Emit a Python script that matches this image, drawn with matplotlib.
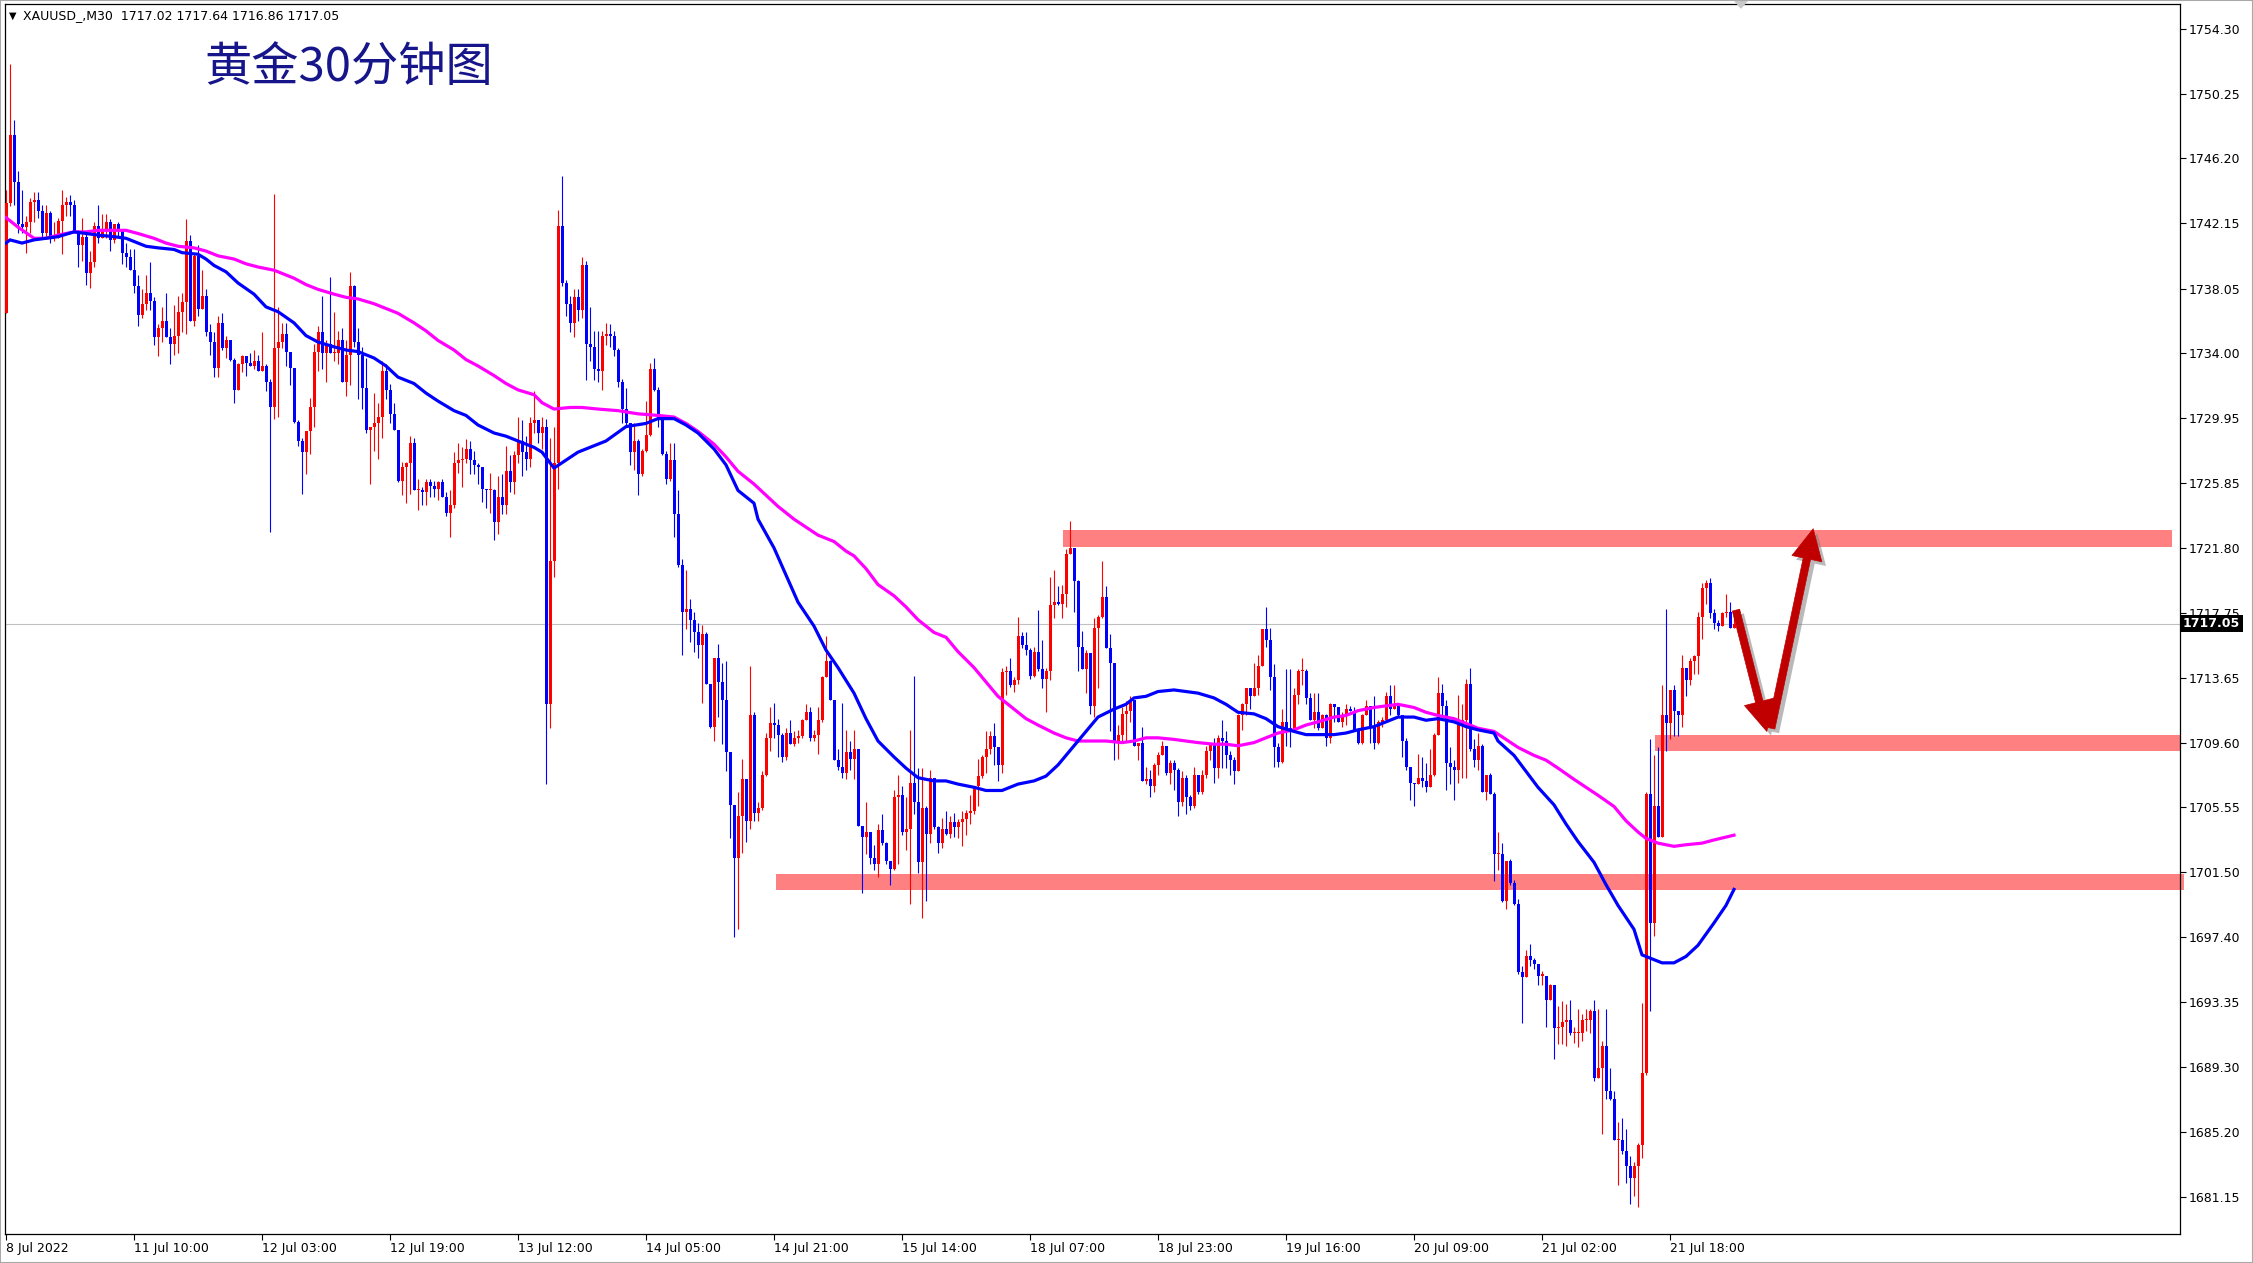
import matplotlib
matplotlib.use("Agg")
import matplotlib.pyplot as plt
import numpy as np
from matplotlib.patches import Rectangle, FancyArrowPatch, Polygon
import matplotlib.patheffects as pe
import matplotlib.transforms as mtrans

plt.rcParams['font.family'] = ['DejaVu Sans', 'Noto Sans CJK SC']

# ---------------- data ----------------
symbol = "XAUUSD_,M30"
last_bar_ohlc = [1717.02, 1717.64, 1716.86, 1717.05]
title_text = "黄金30分钟图"
first_open = 1736.5

closes = [
 1743.4, 1747.7, 1744.7, 1742.1, 1741.9, 1742.2, 1743.5, 1743.6, 1742.9, 1741.5,
 1742.8, 1741.2, 1741.2, 1742.3, 1743.3, 1743.5, 1743.3, 1741.6, 1740.8, 1741.3,
 1739.0, 1739.7, 1742.0, 1741.2, 1741.8, 1742.2, 1741.1, 1742.1, 1741.8, 1740.3,
 1740.0, 1739.2, 1738.2, 1736.4, 1737.1, 1737.8, 1737.3, 1735.0, 1735.6, 1736.0,
 1735.0, 1734.6, 1735.1, 1736.6, 1737.2, 1741.0, 1736.0, 1740.1, 1736.8, 1737.6,
 1735.3, 1734.7, 1733.1, 1735.9, 1734.3, 1734.8, 1733.6, 1731.7, 1733.3, 1733.8,
 1733.4, 1733.2, 1733.5, 1732.9, 1733.2, 1732.2, 1730.6, 1734.3, 1734.7, 1735.2,
 1734.1, 1733.1, 1729.7, 1728.5, 1727.8, 1729.1, 1730.6, 1734.1, 1735.3, 1734.0,
 1734.6, 1734.0, 1734.0, 1734.8, 1732.2, 1733.9, 1738.2, 1734.7, 1733.9, 1731.8,
 1729.2, 1729.4, 1729.6, 1730.0, 1732.9, 1731.7, 1730.2, 1729.2, 1726.0, 1726.9,
 1727.1, 1728.4, 1725.4, 1725.4, 1725.3, 1725.9, 1725.7, 1725.5, 1725.9, 1725.0,
 1724.0, 1724.5, 1727.1, 1727.3, 1727.4, 1728.0, 1727.3, 1727.0, 1726.9, 1725.5,
 1725.4, 1725.4, 1723.4, 1725.0, 1724.5, 1726.6, 1725.9, 1727.6, 1728.5, 1727.8,
 1727.4, 1729.6, 1729.8, 1729.0, 1729.4, 1712.0, 1721.0, 1727.1, 1742.0, 1738.4,
 1737.1, 1735.9, 1737.5, 1736.7, 1739.5, 1734.6, 1734.4, 1733.0, 1732.9, 1735.1,
 1735.2, 1735.1, 1734.2, 1732.2, 1730.5, 1729.6, 1727.8, 1728.5, 1726.4, 1727.9,
 1728.9, 1733.0, 1731.7, 1729.8, 1727.7, 1726.1, 1727.3, 1723.9, 1720.7, 1717.8,
 1718.0, 1717.3, 1716.5, 1715.7, 1716.4, 1713.3, 1710.6, 1714.9, 1713.4, 1712.3,
 1709.0, 1705.7, 1702.4, 1705.0, 1707.3, 1704.7, 1711.3, 1705.2, 1705.5, 1707.6,
 1709.9, 1710.8, 1710.7, 1710.1, 1708.7, 1710.2, 1709.5, 1709.9, 1710.0, 1711.0,
 1711.5, 1709.9, 1710.1, 1711.0, 1713.7, 1714.7, 1712.3, 1708.5, 1708.1, 1707.7,
 1709.0, 1708.6, 1709.2, 1704.4, 1703.7, 1704.0, 1702.4, 1702.0, 1704.1, 1703.3,
 1702.2, 1701.7, 1706.2, 1706.3, 1704.0, 1704.2, 1707.1, 1705.9, 1702.1, 1705.5,
 1703.9, 1707.4, 1704.3, 1703.3, 1704.2, 1703.9, 1704.6, 1704.3, 1704.6, 1704.8,
 1705.2, 1705.3, 1706.9, 1707.5, 1708.7, 1709.2, 1710.0, 1709.3, 1708.2, 1714.0,
 1714.1, 1713.2, 1713.5, 1716.3, 1715.7, 1715.4, 1713.8, 1715.3, 1714.2, 1713.6,
 1714.1, 1718.2, 1718.4, 1718.3, 1718.9, 1721.4, 1721.8, 1719.7, 1715.6, 1714.2,
 1715.2, 1711.9, 1716.8, 1717.5, 1718.7, 1715.5, 1714.6, 1709.7, 1710.1, 1711.4,
 1711.6, 1712.3, 1709.4, 1709.6, 1707.2, 1707.3, 1706.9, 1708.2, 1708.8, 1709.4,
 1707.7, 1708.3, 1707.9, 1705.9, 1707.4, 1706.2, 1705.6, 1707.6, 1706.5, 1707.6,
 1709.1, 1709.5, 1708.0, 1709.9, 1709.7, 1708.8, 1708.5, 1707.8, 1711.3, 1712.0,
 1713.0, 1712.5, 1713.0, 1714.4, 1716.7, 1716.0, 1713.7, 1709.3, 1708.4, 1710.9,
 1710.5, 1710.4, 1712.6, 1714.1, 1714.1, 1712.4, 1711.0, 1711.5, 1710.5, 1711.3,
 1709.9, 1712.0, 1711.8, 1710.9, 1711.3, 1711.7, 1711.6, 1710.4, 1709.6, 1711.3,
 1711.9, 1710.6, 1709.6, 1710.9, 1711.0, 1712.5, 1711.7, 1712.0, 1711.3, 1709.7,
 1708.1, 1707.1, 1707.0, 1707.4, 1707.2, 1706.8, 1707.6, 1710.1, 1712.7, 1711.9,
 1708.3, 1708.1, 1707.9, 1710.7, 1711.0, 1713.3, 1709.2, 1708.5, 1709.4, 1706.5,
 1707.6, 1706.4, 1702.6, 1702.6, 1699.7, 1702.2, 1700.8, 1699.5, 1695.2, 1694.9,
 1696.2, 1696.0, 1695.7, 1695.0, 1695.0, 1693.5, 1694.4, 1691.7, 1691.8, 1692.1,
 1692.2, 1691.4, 1691.4, 1691.4, 1692.2, 1692.2, 1692.8, 1688.6, 1689.2, 1690.6,
 1687.8, 1687.3, 1684.7, 1684.7, 1684.0, 1683.1, 1682.3, 1683.1, 1684.4, 1688.9,
 1706.4, 1698.3, 1705.6, 1703.7, 1711.3, 1710.8, 1712.9, 1711.6, 1711.3, 1714.3,
 1713.5, 1714.7, 1715.0, 1717.5, 1719.3, 1719.6, 1717.7, 1717.1, 1716.9, 1717.7,
 1717.8, 1716.8, 1717.05]

highs = [
 1744.2, 1752.1, 1748.6, 1745.4, 1744.2, 1742.6, 1743.7, 1744.1, 1744.1, 1743.3,
 1743.3, 1742.9, 1742.2, 1742.5, 1744.2, 1743.8, 1743.9, 1743.6, 1741.7, 1742.5,
 1741.6, 1740.4, 1742.2, 1743.3, 1742.7, 1742.7, 1742.4, 1742.1, 1742.2, 1741.6,
 1740.9, 1740.5, 1740.5, 1738.9, 1738.0, 1738.9, 1739.7, 1737.5, 1735.8, 1736.9,
 1737.8, 1735.6, 1737.0, 1737.6, 1737.8, 1742.4, 1741.4, 1740.3, 1740.8, 1739.2,
 1738.0, 1735.8, 1735.3, 1736.3, 1736.5, 1735.1, 1734.8, 1733.7, 1733.4, 1733.9,
 1733.7, 1734.0, 1734.2, 1733.9, 1735.3, 1733.3, 1732.4, 1744.0, 1736.9, 1735.9,
 1735.9, 1734.1, 1733.0, 1729.8, 1728.7, 1729.1, 1731.2, 1734.6, 1735.7, 1737.6,
 1734.8, 1738.8, 1736.6, 1735.4, 1735.6, 1734.8, 1739.1, 1738.3, 1735.6, 1734.4,
 1733.7, 1729.4, 1731.5, 1730.9, 1733.5, 1733.3, 1732.1, 1730.9, 1729.2, 1727.2,
 1727.2, 1728.8, 1728.7, 1726.1, 1725.6, 1726.1, 1726.1, 1726.0, 1726.0, 1726.1,
 1725.3, 1725.4, 1727.8, 1728.4, 1728.1, 1728.6, 1728.5, 1727.9, 1727.1, 1726.9,
 1725.5, 1726.5, 1725.5, 1726.3, 1726.4, 1728.2, 1727.6, 1727.9, 1730.0, 1729.8,
 1728.8, 1730.0, 1731.6, 1729.8, 1730.0, 1729.9, 1728.7, 1729.4, 1743.0, 1745.1,
 1738.6, 1737.6, 1738.0, 1738.0, 1740.0, 1739.8, 1736.9, 1735.4, 1735.4, 1735.4,
 1735.9, 1735.8, 1735.4, 1734.3, 1732.4, 1731.8, 1729.5, 1729.6, 1728.6, 1728.0,
 1731.0, 1733.4, 1733.7, 1731.9, 1729.7, 1727.9, 1728.4, 1728.4, 1725.4, 1721.1,
 1720.4, 1718.6, 1717.8, 1717.1, 1717.0, 1716.5, 1713.3, 1714.9, 1715.8, 1714.6,
 1714.7, 1709.0, 1705.3, 1706.5, 1708.6, 1707.1, 1714.4, 1711.5, 1705.9, 1707.8,
 1710.2, 1711.8, 1712.1, 1711.1, 1710.2, 1710.5, 1711.0, 1710.3, 1710.4, 1711.1,
 1712.0, 1711.8, 1710.4, 1711.8, 1713.8, 1716.3, 1714.8, 1712.3, 1709.2, 1712.1,
 1710.4, 1709.7, 1710.4, 1708.9, 1704.4, 1705.9, 1704.0, 1703.2, 1704.5, 1705.1,
 1703.4, 1702.2, 1706.6, 1707.6, 1706.9, 1706.2, 1710.4, 1713.8, 1708.0, 1708.0,
 1705.6, 1707.9, 1707.4, 1704.4, 1704.9, 1705.3, 1705.0, 1705.2, 1704.8, 1705.3,
 1705.4, 1706.3, 1706.9, 1708.6, 1708.8, 1710.3, 1710.3, 1710.8, 1709.3, 1714.3,
 1714.4, 1714.9, 1713.7, 1717.5, 1716.5, 1716.5, 1715.5, 1715.6, 1717.9, 1716.0,
 1714.3, 1720.0, 1720.4, 1719.4, 1719.5, 1721.7, 1723.5, 1721.8, 1719.8, 1716.6,
 1715.4, 1715.2, 1717.4, 1717.6, 1721.0, 1719.4, 1716.4, 1714.6, 1710.7, 1711.8,
 1712.2, 1712.5, 1712.1, 1709.6, 1710.6, 1708.1, 1707.9, 1708.3, 1709.0, 1709.7,
 1709.3, 1708.5, 1708.5, 1708.0, 1707.8, 1707.6, 1706.3, 1708.1, 1707.6, 1707.9,
 1709.4, 1709.5, 1709.9, 1710.1, 1711.0, 1710.3, 1709.1, 1708.7, 1711.4, 1712.1,
 1713.0, 1713.0, 1714.6, 1715.1, 1716.7, 1718.1, 1716.8, 1714.5, 1709.6, 1711.7,
 1714.2, 1714.2, 1713.0, 1714.2, 1714.9, 1714.2, 1712.7, 1712.7, 1712.7, 1711.4,
 1711.4, 1712.1, 1712.0, 1711.8, 1711.5, 1712.0, 1711.9, 1711.8, 1710.5, 1711.4,
 1712.3, 1711.8, 1712.5, 1711.0, 1711.2, 1712.8, 1713.2, 1713.2, 1712.1, 1711.3,
 1709.9, 1708.1, 1707.1, 1708.9, 1708.7, 1708.3, 1709.2, 1710.2, 1713.7, 1713.3,
 1712.3, 1709.3, 1708.5, 1712.6, 1712.0, 1713.6, 1714.3, 1709.8, 1710.2, 1709.5,
 1707.6, 1707.7, 1706.5, 1704.0, 1703.3, 1702.2, 1702.3, 1701.0, 1699.8, 1695.6,
 1696.6, 1697.0, 1696.1, 1695.7, 1695.3, 1695.0, 1694.5, 1694.4, 1693.1, 1693.4,
 1693.2, 1693.5, 1691.8, 1692.9, 1692.6, 1692.9, 1692.9, 1693.5, 1692.9, 1690.9,
 1692.9, 1689.2, 1687.8, 1685.8, 1686.1, 1685.4, 1683.7, 1683.3, 1684.5, 1693.3,
 1706.5, 1709.8, 1708.8, 1709.3, 1713.2, 1718.0, 1712.9, 1713.2, 1711.3, 1715.1,
 1714.3, 1714.9, 1715.1, 1717.8, 1719.6, 1719.8, 1719.9, 1718.0, 1717.3, 1717.8,
 1718.9, 1718.4, 1717.64]

lows = [
 1736.5, 1743.2, 1743.3, 1741.5, 1741.5, 1740.3, 1741.5, 1742.2, 1742.5, 1741.3,
 1741.3, 1740.9, 1741.0, 1741.2, 1740.2, 1742.6, 1742.6, 1741.6, 1739.4, 1739.8,
 1738.3, 1738.1, 1739.4, 1740.9, 1741.2, 1741.2, 1740.4, 1740.9, 1741.3, 1739.6,
 1739.4, 1739.2, 1737.8, 1735.7, 1736.2, 1736.7, 1736.7, 1734.5, 1733.8, 1734.7,
 1735.0, 1733.3, 1733.9, 1734.0, 1735.3, 1735.2, 1736.0, 1735.7, 1736.3, 1736.8,
 1735.1, 1733.9, 1732.5, 1732.5, 1734.2, 1733.7, 1733.5, 1730.9, 1731.8, 1732.8,
 1732.6, 1733.2, 1733.0, 1732.9, 1733.0, 1731.6, 1722.8, 1729.9, 1730.0, 1734.3,
 1733.2, 1732.0, 1729.6, 1728.2, 1725.2, 1726.4, 1727.7, 1729.4, 1732.9, 1733.0,
 1732.2, 1734.0, 1733.5, 1733.3, 1732.2, 1731.3, 1732.0, 1734.4, 1731.1, 1730.5,
 1729.0, 1725.8, 1727.9, 1727.4, 1728.7, 1731.1, 1729.6, 1729.2, 1725.9, 1725.1,
 1724.6, 1725.2, 1725.4, 1724.2, 1724.5, 1724.5, 1725.0, 1725.0, 1724.8, 1725.0,
 1723.8, 1722.5, 1724.3, 1726.5, 1725.6, 1727.1, 1726.4, 1726.4, 1725.8, 1724.7,
 1724.3, 1724.0, 1722.3, 1722.7, 1723.9, 1723.9, 1725.3, 1725.2, 1727.1, 1726.3,
 1726.7, 1726.9, 1729.0, 1728.4, 1728.0, 1707.0, 1710.5, 1720.0, 1725.5, 1738.2,
 1736.3, 1735.3, 1735.0, 1736.0, 1736.2, 1732.3, 1733.5, 1732.3, 1732.2, 1731.7,
 1734.5, 1734.4, 1733.8, 1731.9, 1729.6, 1729.5, 1727.0, 1726.7, 1725.1, 1726.3,
 1727.8, 1728.8, 1731.6, 1729.4, 1727.6, 1725.8, 1726.0, 1722.5, 1720.6, 1715.1,
 1716.7, 1715.9, 1715.3, 1714.9, 1712.1, 1713.3, 1710.5, 1709.7, 1711.2, 1709.5,
 1707.8, 1703.6, 1697.4, 1697.9, 1702.7, 1703.4, 1704.2, 1704.7, 1704.7, 1705.4,
 1707.5, 1709.1, 1709.9, 1708.7, 1708.4, 1708.5, 1709.5, 1709.4, 1709.6, 1709.9,
 1711.0, 1709.7, 1709.7, 1708.9, 1710.9, 1713.7, 1712.3, 1708.5, 1707.9, 1707.4,
 1707.3, 1707.9, 1707.3, 1704.4, 1700.2, 1702.6, 1702.0, 1701.6, 1701.2, 1703.2,
 1702.0, 1700.7, 1701.6, 1702.0, 1703.8, 1702.9, 1699.5, 1705.1, 1701.4, 1698.6,
 1699.7, 1703.3, 1704.2, 1702.7, 1703.0, 1703.8, 1703.6, 1703.7, 1703.6, 1703.1,
 1703.8, 1704.5, 1705.1, 1705.6, 1707.4, 1707.7, 1708.9, 1708.2, 1707.2, 1707.7,
 1712.6, 1713.1, 1712.8, 1713.3, 1715.5, 1715.1, 1713.6, 1713.7, 1714.1, 1713.0,
 1711.5, 1713.5, 1717.4, 1718.2, 1717.4, 1718.1, 1721.4, 1717.8, 1714.1, 1714.2,
 1712.7, 1711.4, 1711.2, 1713.0, 1717.4, 1715.5, 1710.3, 1708.5, 1708.6, 1709.7,
 1709.7, 1710.9, 1709.4, 1708.5, 1707.2, 1707.0, 1706.2, 1706.5, 1707.6, 1708.9,
 1707.6, 1707.0, 1706.6, 1705.0, 1705.6, 1705.1, 1705.4, 1705.5, 1706.4, 1706.4,
 1707.4, 1708.5, 1707.1, 1707.4, 1708.0, 1708.0, 1707.6, 1707.0, 1707.9, 1710.4,
 1711.3, 1711.7, 1712.5, 1712.6, 1714.4, 1715.6, 1712.9, 1708.1, 1708.1, 1708.3,
 1709.4, 1709.3, 1710.3, 1712.0, 1713.2, 1712.0, 1711.0, 1710.5, 1710.4, 1710.5,
 1709.4, 1709.6, 1710.9, 1710.9, 1710.6, 1710.7, 1711.6, 1710.4, 1709.5, 1709.5,
 1711.3, 1709.6, 1709.2, 1709.5, 1710.6, 1710.9, 1711.3, 1711.7, 1711.2, 1708.7,
 1707.9, 1706.0, 1705.6, 1707.0, 1706.8, 1706.5, 1706.8, 1707.5, 1710.1, 1711.3,
 1706.6, 1707.0, 1706.0, 1707.1, 1707.4, 1707.4, 1709.1, 1708.1, 1707.9, 1706.5,
 1706.0, 1706.4, 1700.9, 1701.6, 1699.6, 1699.2, 1700.7, 1699.4, 1695.1, 1692.0,
 1694.9, 1695.6, 1695.4, 1694.4, 1694.4, 1691.8, 1693.5, 1689.8, 1690.7, 1690.7,
 1690.6, 1691.3, 1690.8, 1690.5, 1690.9, 1691.5, 1691.4, 1688.4, 1688.6, 1685.1,
 1687.3, 1687.2, 1684.7, 1681.9, 1683.8, 1682.0, 1680.7, 1681.2, 1680.5, 1683.6,
 1688.8, 1692.8, 1697.5, 1703.7, 1703.7, 1709.1, 1709.8, 1710.0, 1710.0, 1710.6,
 1712.5, 1713.2, 1713.9, 1713.9, 1716.1, 1718.3, 1717.4, 1716.7, 1716.6, 1716.9,
 1717.5, 1716.8, 1716.86]

# fast (blue) moving average, read at bar positions
ma_fast_pos = [0, 1, 4, 7, 10, 13, 17, 20, 23, 27, 30, 33, 35, 38, 42, 44, 48, 50, 52, 55,
               58, 62, 65, 68, 72, 75, 78, 82, 85, 88, 92, 95, 98, 102, 105, 108, 112, 115, 118, 122,
               125, 128, 132, 134, 137, 140, 143, 150, 155, 160, 163, 167, 170, 173, 177, 180, 183, 187, 188, 192,
               195, 198, 202, 205, 208, 212, 215, 218, 222, 225, 228, 232, 235, 238, 242, 245, 249, 253, 257, 260,
               263, 267, 270, 273, 277, 280, 282, 285, 288, 292, 295, 298, 302, 305, 308, 312, 315, 318, 322, 325,
               328, 332, 335, 338, 342, 345, 348, 352, 355, 358, 362, 365, 368, 372, 373, 377, 380, 383, 387, 390,
               393, 397, 400, 403, 407, 409, 412, 414, 417, 420, 423, 427, 430, 432]
ma_fast_val = [1740.9, 1741.1, 1740.9, 1741.1, 1741.2, 1741.3, 1741.6, 1741.5, 1741.4, 1741.3, 1741.2, 1740.9, 1740.7, 1740.6, 1740.5, 1740.3, 1740.2, 1739.9, 1739.5, 1739.1,
               1738.4, 1737.7, 1736.9, 1736.6, 1735.9, 1735.1, 1734.7, 1734.4, 1734.2, 1734.1, 1733.7, 1733.2, 1732.5, 1732.1, 1731.5, 1731.0, 1730.4, 1730.1, 1729.5, 1729.0,
               1728.8, 1728.5, 1728.1, 1727.8, 1726.8, 1727.3, 1727.8, 1728.5, 1729.4, 1729.6, 1729.9, 1729.9, 1729.5, 1729.0, 1728.0, 1727.0, 1725.4, 1724.6, 1723.6, 1721.8,
               1720.1, 1718.4, 1716.9, 1715.4, 1714.3, 1712.7, 1711.1, 1709.7, 1708.7, 1708.0, 1707.4, 1707.2, 1707.2, 1707.0, 1706.8, 1706.6, 1706.6, 1707.0, 1707.2, 1707.5,
               1708.2, 1709.4, 1710.3, 1711.2, 1711.7, 1712.0, 1712.4, 1712.5, 1712.8, 1712.9, 1712.8, 1712.7, 1712.4, 1712.0, 1711.5, 1711.4, 1711.1, 1710.6, 1710.3, 1710.1,
               1710.1, 1710.1, 1710.2, 1710.4, 1710.6, 1710.9, 1711.2, 1711.2, 1711.0, 1711.1, 1710.9, 1710.6, 1710.4, 1710.2, 1709.7, 1708.8, 1707.8, 1706.8, 1705.7, 1704.5,
               1703.4, 1702.1, 1700.7, 1699.4, 1697.9, 1696.3, 1696.0, 1695.8, 1695.8, 1696.2, 1696.9, 1698.3, 1699.4, 1700.4]

# slow (magenta) moving average, read at bar positions
ma_slow_pos = [0, 3, 7, 10, 13, 17, 20, 23, 27, 30, 33, 37, 40, 43, 47, 50, 53, 57, 60, 63,
               67, 70, 72, 75, 78, 82, 85, 88, 92, 95, 98, 102, 105, 108, 112, 115, 118, 122, 125, 128,
               132, 134, 137, 141, 144, 148, 153, 158, 163, 167, 170, 173, 177, 180, 183, 187, 190, 193, 197, 200,
               203, 207, 210, 212, 215, 218, 222, 225, 228, 232, 235, 238, 242, 245, 248, 252, 255, 258, 262, 265,
               268, 272, 275, 279, 282, 285, 288, 292, 295, 298, 302, 305, 308, 312, 315, 318, 322, 325, 328, 332,
               335, 338, 342, 345, 348, 352, 355, 358, 362, 365, 368, 372, 375, 378, 382, 385, 388, 392, 395, 398,
               402, 405, 408, 410, 413, 417, 420, 424, 427, 432]
ma_slow_val = [1742.5, 1741.9, 1741.2, 1741.2, 1741.4, 1741.6, 1741.6, 1741.7, 1741.7, 1741.7, 1741.5, 1741.2, 1740.9, 1740.7, 1740.6, 1740.4, 1740.1, 1739.9, 1739.6, 1739.4,
               1739.2, 1738.9, 1738.7, 1738.3, 1738.0, 1737.7, 1737.5, 1737.4, 1737.1, 1736.8, 1736.5, 1735.9, 1735.4, 1734.8, 1734.2, 1733.6, 1733.2, 1732.6, 1732.1, 1731.7,
               1731.4, 1730.9, 1730.5, 1730.6, 1730.6, 1730.5, 1730.4, 1730.2, 1730.1, 1730.0, 1729.6, 1729.1, 1728.3, 1727.5, 1726.6, 1725.8, 1725.1, 1724.4, 1723.6, 1723.1,
               1722.6, 1722.2, 1721.6, 1721.3, 1720.5, 1719.5, 1718.8, 1718.1, 1717.3, 1716.5, 1716.2, 1715.3, 1714.3, 1713.4, 1712.5, 1711.7, 1711.1, 1710.7, 1710.2, 1709.9,
               1709.7, 1709.7, 1709.7, 1709.6, 1709.7, 1709.9, 1709.9, 1709.8, 1709.7, 1709.6, 1709.5, 1709.5, 1709.4, 1709.6, 1709.9, 1710.2, 1710.4, 1710.7, 1710.9, 1711.2,
               1711.3, 1711.6, 1711.8, 1711.9, 1712.0, 1711.8, 1711.5, 1711.3, 1711.1, 1710.8, 1710.5, 1710.3, 1709.8, 1709.3, 1708.8, 1708.5, 1708.0, 1707.3, 1706.8, 1706.3,
               1705.6, 1704.7, 1704.0, 1703.6, 1703.3, 1703.1, 1703.2, 1703.3, 1703.5, 1703.8]

# horizontal zones: (start bar, end bar, low price, high price)
zone_start = [264.25, 412.25, 192.5]
zone_end = [541.5, 543.5, 544.5]
zone_low = [1721.85, 1709.10, 1700.35]
zone_high = [1722.95, 1710.10, 1701.35]

# drawn arrows (bar position, price)
arrow_down = [(432.5, 1717.9), (440.2, 1710.3)]
arrow_up = [(441.3, 1710.5), (451.8, 1723.0)]

# axis ticks
price_ticks = [1754.30, 1750.25, 1746.20, 1742.15, 1738.05, 1734.00, 1729.95, 1725.85, 1721.80,
               1717.75, 1713.65, 1709.60, 1705.55, 1701.50, 1697.40, 1693.35, 1689.30, 1685.20, 1681.15]
time_tick_pos = [0, 32, 64, 96, 128, 160, 192, 224, 256, 288, 320, 352, 384, 416]
time_tick_labels = ["8 Jul 2022", "11 Jul 10:00", "12 Jul 03:00", "12 Jul 19:00", "13 Jul 12:00",
                    "14 Jul 05:00", "14 Jul 21:00", "15 Jul 14:00", "18 Jul 07:00", "18 Jul 23:00",
                    "19 Jul 16:00", "20 Jul 09:00", "21 Jul 02:00", "21 Jul 18:00"]

# ---------------- figure ----------------
W, H = 2253, 1263
fig = plt.figure(figsize=(W / 100, H / 100), dpi=100)
fig.patch.set_facecolor('white')
ax_l, ax_r, ax_t, ax_b = 5, 2180, 4, 1234
ax = fig.add_axes([ax_l / W, 1 - ax_b / H, (ax_r - ax_l) / W, (ax_b - ax_t) / H])
ax.set_facecolor('white')

ax.set_xlim(-0.25, 543.5)
ax.set_ylim(1678.81, 1755.88)

n = min(len(closes), len(highs), len(lows))
c = np.array(closes[:n])
o = np.r_[first_open, c[:-1]]
hi = np.maximum(np.array(highs[:n]), np.maximum(o, c))
lo = np.minimum(np.array(lows[:n]), np.minimum(o, c))
x = np.arange(n)
colors = np.where(c >= o, '#FF0000', '#0000FF')

# zones
for xs, xe, yl, yh, clip in zip(zone_start, zone_end, zone_low, zone_high, [True, True, False]):
    ax.add_patch(Rectangle((xs, yl), xe - xs, yh - yl, facecolor='#FF8080', edgecolor='none',
                           zorder=1, clip_on=clip))

# current price line
ax.axhline(last_bar_ohlc[3], color='#C0C0C0', lw=0.8, zorder=1.5)

# candles
ax.vlines(x, lo, hi, colors=colors, linewidth=0.8, zorder=3)
body_bottom = np.minimum(o, c)
body_h = np.maximum(np.abs(c - o), 0.07)
ax.bar(x, body_h, bottom=body_bottom, width=0.75, color=colors, linewidth=0, zorder=3)

# moving averages
ax.plot(ma_slow_pos, ma_slow_val, color='#FF00FF', lw=2.3, zorder=4)
ax.plot(ma_fast_pos, ma_fast_val, color='#0000FF', lw=2.3, zorder=4)

# arrows
for a, b in (arrow_down, arrow_up):
    arr = FancyArrowPatch(a, b, arrowstyle='simple,head_length=1.1,head_width=1.1,tail_width=0.27',
                          mutation_scale=20, fc='#C00000', ec='#C00000', lw=0.5, zorder=6,
                          shrinkA=0, shrinkB=0,
                          path_effects=[pe.SimplePatchShadow(offset=(3, -3), shadow_rgbFace='#808080', alpha=0.55),
                                        pe.Normal()])
    ax.add_patch(arr)

# axes / ticks
for s in ax.spines.values():
    s.set_color('black')
    s.set_linewidth(0.9)
ax.yaxis.tick_right()
ax.set_yticks(price_ticks)
ax.set_yticklabels([f"{v:.2f}" for v in price_ticks])
ax.tick_params(axis='y', length=4, width=0.8, pad=2, labelsize=9, direction='out', colors='black')
ax.set_xticks(time_tick_pos)
ax.set_xticklabels(time_tick_labels)
ax.tick_params(axis='x', length=4, width=0.8, pad=2, labelsize=9, direction='out')
for lab in ax.get_xticklabels():
    lab.set_ha('left')

# current price tag
trans = mtrans.blended_transform_factory(ax.transAxes, ax.transData)
ax.text(1.0 + 3 / 2175, last_bar_ohlc[3], f"{last_bar_ohlc[3]:.2f}", transform=trans,
        color='white', fontsize=9, fontweight='bold', va='center', ha='left', zorder=10, clip_on=False,
        bbox=dict(boxstyle='square,pad=0.18', fc='black', ec='none'))

# header and title
fig.text(9 / W, 1 - 15.5 / H, '▼', fontsize=7, va='center', ha='left', color='black')
fig.text(23 / W, 1 - 15.5 / H, symbol + "  " + " ".join(f"{v:.2f}" for v in last_bar_ohlc),
         fontsize=9, va='center', ha='left', color='black')
fig.text(204 / W, 1 - 68 / H, title_text, fontsize=34, color='#16168A', va='center', ha='left',
         family=['Noto Sans CJK SC', 'DejaVu Sans'])

# small chart-shift marker at the top
fig.add_artist(Polygon([[1735 / W, 1 - 1 / H], [1747 / W, 1 - 1 / H], [1741 / W, 1 - 8 / H]],
                       closed=True, transform=fig.transFigure, color='#C8C8C8'))
# outer frame
fig.add_artist(Rectangle((0, 0), 1, 1, transform=fig.transFigure, fill=False, ec='#A8A8A8', lw=1.5))

fig.savefig('out.png', dpi=100, facecolor='white')
